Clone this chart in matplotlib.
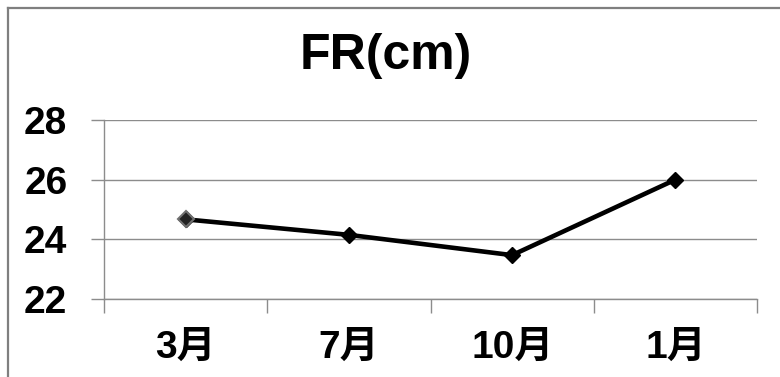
import matplotlib
matplotlib.use("Agg")
import matplotlib.pyplot as plt
from matplotlib import font_manager
from matplotlib.lines import Line2D

# Data
months = ["3月", "7月", "10月", "1月"]
fr_cm = [24.67, 24.15, 23.47, 26.0]
y_ticks = [22, 24, 26, 28]
title = "FR(cm)"

installed = {f.name for f in font_manager.fontManager.ttflist}
latin = next((n for n in ["Liberation Sans Narrow", "DejaVu Sans Condensed", "Liberation Sans"]
              if n in installed), "DejaVu Sans")
fams = [latin, "Noto Sans CJK JP", "DejaVu Sans"]
plt.rcParams["font.family"] = fams

fig = plt.figure(figsize=(7.8, 3.77), dpi=100)
ax = fig.add_axes([104 / 780, 1 - 299 / 377, (757 - 104) / 780, (299 - 120) / 377])

x = [i + 0.5 for i in range(len(months))]
ax.plot(x, fr_cm, color="black", lw=3.3, marker="D", ms=8.5,
        mfc="black", mec="black", zorder=3, clip_on=False)
# first point drawn with a softer grey rim
ax.plot(x[:1], fr_cm[:1], ls="none", marker="D", ms=8.5, mfc="#222222",
        mec="#707070", mew=1.5, zorder=4, clip_on=False)

ax.set_xlim(0, len(months))
ax.set_ylim(min(y_ticks), max(y_ticks))
ax.set_yticks(y_ticks)
ax.set_yticklabels([str(v) for v in y_ticks], fontsize=28, fontweight="bold")
ax.yaxis.grid(True, color="#8c8c8c", lw=1.0)
ax.set_axisbelow(True)

ax.set_xticks(range(len(months) + 1))
ax.set_xticklabels([])
ax.set_xticks(x, minor=True)
ax.set_xticklabels(months, minor=True, fontsize=28, fontweight="bold")
ax.tick_params(axis="x", which="major", length=10, width=1.0, color="#8c8c8c", direction="out")
ax.tick_params(axis="x", which="minor", length=0, pad=22)
ax.tick_params(axis="y", length=9.4, width=1.0, color="#8c8c8c", pad=17)

for s in ["top", "right"]:
    ax.spines[s].set_visible(False)
for s in ["left", "bottom"]:
    ax.spines[s].set_color("#8c8c8c")
    ax.spines[s].set_linewidth(1.0)

fig.text(386 / 780, 1 - 56 / 377, title, ha="center", va="center",
         fontsize=36, fontweight="bold")

# chart frame (left and top edges)
bx, by = 8 / 780, 1 - 7.5 / 377
fig.add_artist(Line2D([bx, bx], [0, by], transform=fig.transFigure, color="#7f7f7f", lw=1.6))
fig.add_artist(Line2D([bx, 1], [by, by], transform=fig.transFigure, color="#7f7f7f", lw=1.6))

fig.savefig("out.png", dpi=100, facecolor="white")
